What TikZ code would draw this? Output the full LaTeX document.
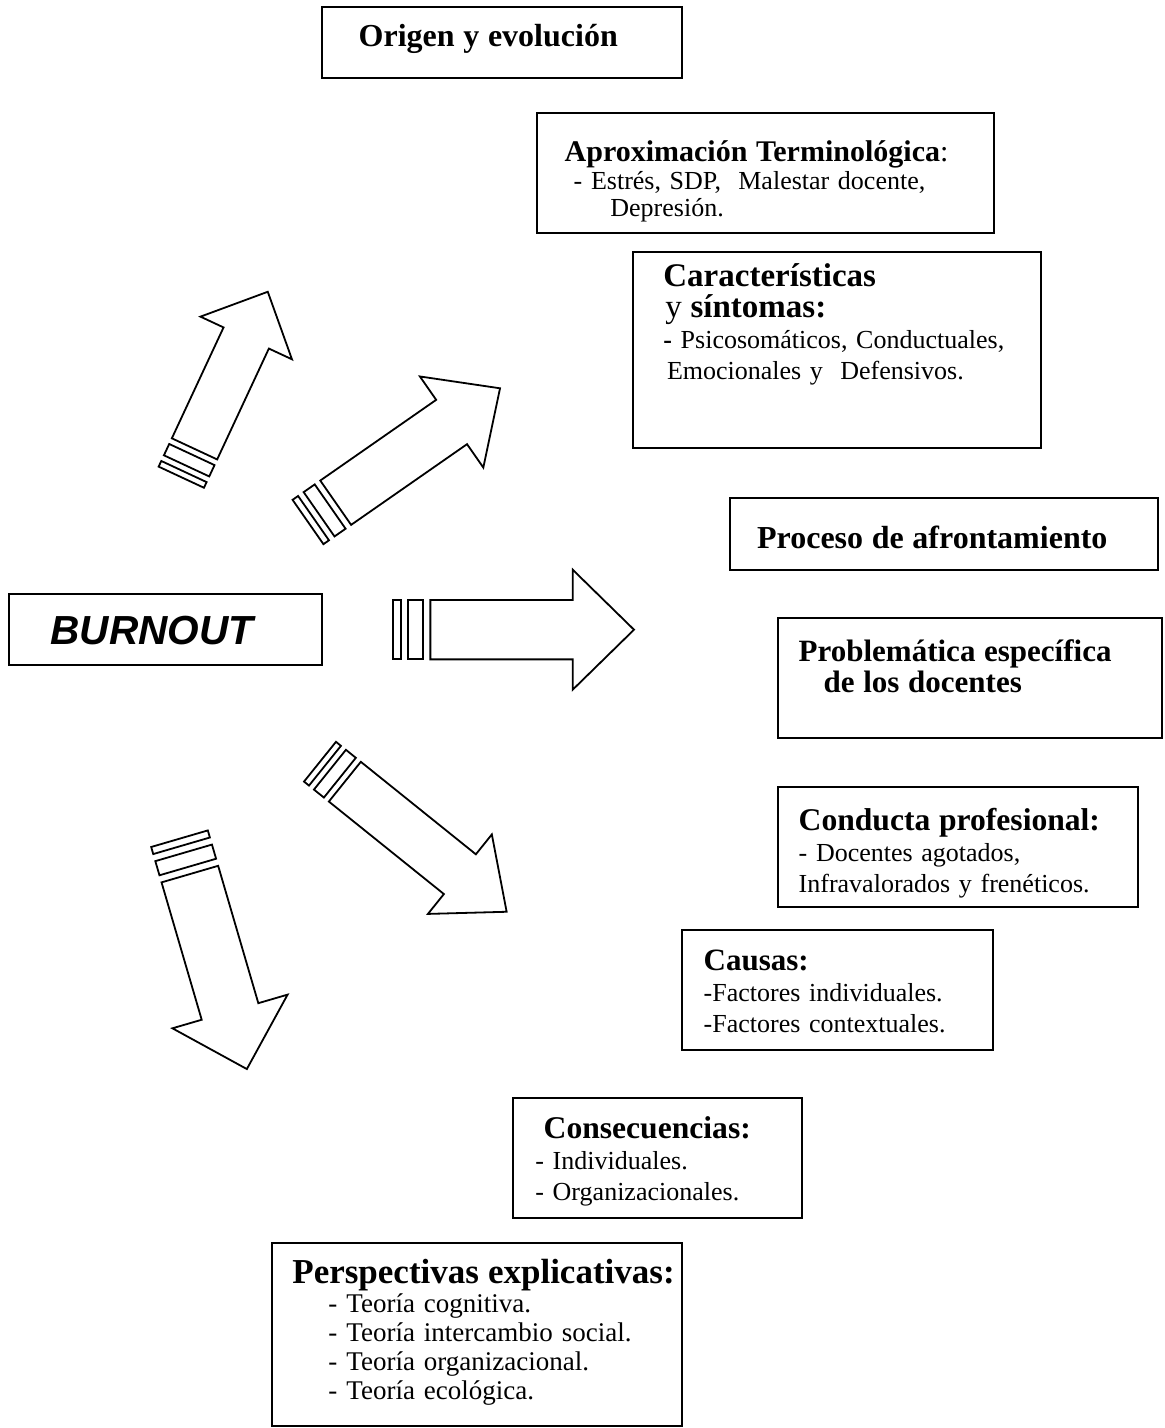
\documentclass[tikz,border=0pt]{standalone}
\usepackage{fontspec}
\setmainfont{Liberation Serif}
\newfontfamily\burnoutfont{Liberation Sans}
\usepackage{tikz}
\usetikzlibrary{fit}
% striped block arrow: tail x, tail y, angle, length, shaft width, head width, head length
\newcommand\stripedarrow[7]{
  \begin{scope}[shift={(#1,#2)}, rotate=#3]
      \draw[arrowline] (0,{-#5/2}) rectangle ({0.125*#5},{#5/2});
      \draw[arrowline] ({0.25*#5},{-#5/2}) rectangle ({0.5*#5},{#5/2});
      \draw[arrowline] ({0.625*#5},{-#5/2}) -- ({#4-#7},{-#5/2}) -- ({#4-#7},{-#6/2})
          -- (#4,0) -- ({#4-#7},{#6/2}) -- ({#4-#7},{#5/2}) -- ({0.625*#5},{#5/2}) -- cycle;
  \end{scope}
}
\newcommand\hd[2][16pt]{{\fontsize{#1}{#1}\selectfont\bfseries #2}}

\begin{document}
\begin{tikzpicture}[x=0.5pt, y=-0.5pt,
    arrowline/.style={line width=0.9pt, line join=miter},
    panel/.style={draw, line width=0.9pt, inner sep=0pt},
    paneltext/.style={anchor=base west, inner sep=0pt, text width=220pt, align=left,
                      font=\fontsize{13pt}{15.5pt}\selectfont}]
    \path[use as bounding box, fill=white] (0,0) rectangle (1165,1428);

    % boxes
    \node[panel, fit={(321.7,6.7) (682.3,78.3)}] (origen) {};
    \node[panel, fit={(537.3,113.3) (994,233.3)}] (aprox) {};
    \node[panel, fit={(633.3,252) (1040.7,448)}] (caract) {};
    \node[panel, fit={(730,498.3) (1158.3,570)}] (proceso) {};
    \node[panel, fit={(9.3,594) (321.7,665)}] (burnout) {};
    \node[panel, fit={(778.3,618.3) (1161.7,738.3)}] (problem) {};
    \node[panel, fit={(778.3,786.7) (1138.3,906.7)}] (conducta) {};
    \node[panel, fit={(681.7,930) (993.3,1050)}] (causas) {};
    \node[panel, fit={(512.7,1098) (801.7,1218.3)}] (consec) {};
    \node[panel, fit={(272,1243) (682,1426)}] (perspect) {};

    % texts
    \node[paneltext] (origentxt) at (358.3,46.7) {\hd{Origen y evoluci\'on}};
    \node[paneltext, font=\fontsize{13pt}{13.75pt}\selectfont] (aproxtxt) at (564.3,161.7)
        {\hd[15pt]{Aproximaci\'on Terminol\'ogica}{\fontsize{15pt}{15pt}\selectfont:}\\
         \hspace*{4.5pt}- Estr\'es, SDP,~ Malestar docente,\\
         \hspace*{22.85pt}Depresi\'on.};
    \node[paneltext] (caracttxt) at (663,286.7)
        {\hd[16.5pt]{Caracter\'isticas}\\
         \hspace*{1pt}{\fontsize{16.5pt}{16.5pt}\selectfont y} \hd[16.5pt]{s\'intomas:}\\
         {\bfseries -} Psicosom\'aticos, Conductuales,\\
         \hspace*{1.8pt}Emocionales y~ Defensivos.};
    \node[paneltext] (procesotxt) at (756.7,548.3) {\hd{Proceso de afrontamiento}};
    \node[paneltext, font=\burnoutfont\fontsize{20.3pt}{24pt}\selectfont\bfseries\itshape]
        (burnouttxt) at (50,644.3) {BURNOUT};
    \node[paneltext] (problemtxt) at (798.3,661.7)
        {\hd[15.5pt]{Problem\'atica espec\'ifica}\\
         \hspace*{12.5pt}\hd[15.5pt]{de los docentes}};
    \node[paneltext] (conductatxt) at (798.3,830)
        {\hd[15.8pt]{Conducta profesional:}\\
         - Docentes agotados,\\
         Infravalorados y fren\'eticos.};
    \node[paneltext] (causastxt) at (703.3,970)
        {\hd[15.5pt]{Causas:}\\
         -Factores individuales.\\
         -Factores contextuales.};
    \node[paneltext] (consectxt) at (535,1138.3)
        {\hspace*{4.15pt}\hd[15.8pt]{Consecuencias:}\\
         - Individuales.\\
         - Organizacionales.};
    \node[paneltext, font=\fontsize{13.5pt}{14.6pt}\selectfont] (perspecttxt) at (292,1283)
        {\hd[17.5pt]{Perspectivas explicativas:}\\
         \hspace*{18pt}- Teor\'ia cognitiva.\\
         \hspace*{18pt}- Teor\'ia intercambio social.\\
         \hspace*{18pt}- Teor\'ia organizacional.\\
         \hspace*{18pt}- Teor\'ia ecol\'ogica.};

    % arrows
    \stripedarrow{181.3}{477.2}{65.0}{204.6}{50}{101}{51}
    \stripedarrow{308}{522}{34.85}{234}{54}{111}{59}
    \stripedarrow{393.3}{629.7}{0}{240.7}{59.3}{120}{61.3}
    \stripedarrow{320}{761.7}{-38.8}{239.5}{51}{102}{60}
    \stripedarrow{179.5}{838.7}{-73.7}{240}{59}{120}{60}
\end{tikzpicture}
\end{document}
